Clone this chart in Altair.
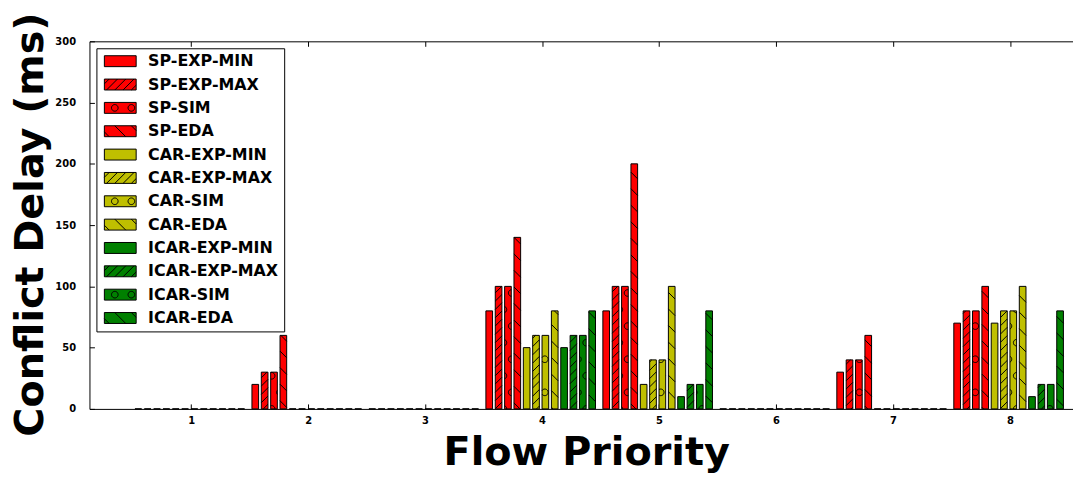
import math
import altair as alt
import pandas as pd

# ---------------- data ----------------
priorities = [1, 2, 3, 4, 5, 6, 7, 8]
series_names = [
    "SP-EXP-MIN", "SP-EXP-MAX", "SP-SIM", "SP-EDA",
    "CAR-EXP-MIN", "CAR-EXP-MAX", "CAR-SIM", "CAR-EDA",
    "ICAR-EXP-MIN", "ICAR-EXP-MAX", "ICAR-SIM", "ICAR-EDA",
]
sp_exp_min = [0, 20, 0, 80, 80, 0, 30, 70]
sp_exp_max = [0, 30, 0, 100, 100, 0, 40, 80]
sp_sim = [0, 30, 0, 100, 100, 0, 40, 80]
sp_eda = [0, 60, 0, 140, 200, 0, 60, 100]
car_exp_min = [0, 0, 0, 50, 20, 0, 0, 70]
car_exp_max = [0, 0, 0, 60, 40, 0, 0, 80]
car_sim = [0, 0, 0, 60, 40, 0, 0, 80]
car_eda = [0, 0, 0, 80, 100, 0, 0, 100]
icar_exp_min = [0, 0, 0, 50, 10, 0, 0, 10]
icar_exp_max = [0, 0, 0, 60, 20, 0, 0, 20]
icar_sim = [0, 0, 0, 60, 20, 0, 0, 20]
icar_eda = [0, 0, 0, 80, 80, 0, 0, 80]
x_ticks = [1, 2, 3, 4, 5, 6, 7, 8]
y_ticks = [0, 50, 100, 150, 200, 250, 300]

series_values = [
    sp_exp_min, sp_exp_max, sp_sim, sp_eda,
    car_exp_min, car_exp_max, car_sim, car_eda,
    icar_exp_min, icar_exp_max, icar_sim, icar_eda,
]

# ---------------- layout / style ----------------
W, H = 990, 370
X_MIN, X_MAX = 0.131, 8.539
Y_MIN, Y_MAX = 0, 300
BAR_START, BAR_STEP, BAR_W = -0.48, 0.08, 0.057
UX = (X_MAX - X_MIN) / W
UY = (Y_MAX - Y_MIN) / H

FAMILY_COLORS = {"SP": "#ff0000", "CAR": "#bfbf00", "ICAR": "#008000"}
HATCH_KIND = {"EXP-MIN": None, "EXP-MAX": "/", "SIM": "o", "EDA": "\\"}
colors = [FAMILY_COLORS[n.split("-")[0]] for n in series_names]
kinds = [HATCH_KIND[n.split("-", 1)[1]] for n in series_names]

S_FWD = 100 / 12
S_BACK = 100 / 6
S_CIRC = 100 / 6
R_CIRC = S_CIRC * 0.2
N_CIRC = 24


def clip_seg(x0, y0, x1, y1, L, R, B, T):
    dx, dy = x1 - x0, y1 - y0
    t0, t1 = 0.0, 1.0
    for p, q in ((-dx, x0 - L), (dx, R - x0), (-dy, y0 - B), (dy, T - y0)):
        if abs(p) < 1e-12:
            if q < 0:
                return None
        else:
            t = q / p
            if p < 0:
                if t > t1:
                    return None
                t0 = max(t0, t)
            else:
                if t < t0:
                    return None
                t1 = min(t1, t)
    if t1 - t0 < 1e-9:
        return None
    return (x0 + t0 * dx, y0 + t0 * dy, x0 + t1 * dx, y0 + t1 * dy)


def hatch_segments(kind, L, R, B, T, ox=0.0, oy=0.0):
    segs = []
    l, r, b, t = L - ox, R - ox, B - oy, T - oy
    raw = []
    if kind == "/":
        for k in range(math.floor((b - r) / S_FWD) - 1, math.ceil((t - l) / S_FWD) + 2):
            c = k * S_FWD
            raw.append((l, l + c, r, r + c))
    elif kind == "\\":
        for k in range(math.floor((b + l) / S_BACK) - 1, math.ceil((t + r) / S_BACK) + 2):
            c = k * S_BACK
            raw.append((l, c - l, r, c - r))
    elif kind == "o":
        for row in range(math.floor((b - R_CIRC) / S_CIRC) - 1, math.ceil((t + R_CIRC) / S_CIRC) + 2):
            yc = row * S_CIRC
            if yc + R_CIRC < b or yc - R_CIRC > t:
                continue
            shift = (row % 2) * S_CIRC / 2
            for j in range(math.floor((l - R_CIRC - shift) / S_CIRC) - 1,
                           math.ceil((r + R_CIRC - shift) / S_CIRC) + 2):
                xc = j * S_CIRC + shift
                if xc + R_CIRC < l or xc - R_CIRC > r:
                    continue
                for n in range(N_CIRC):
                    a0 = 2 * math.pi * n / N_CIRC
                    a1 = 2 * math.pi * (n + 1) / N_CIRC
                    raw.append((xc + R_CIRC * math.cos(a0), yc + R_CIRC * math.sin(a0),
                                xc + R_CIRC * math.cos(a1), yc + R_CIRC * math.sin(a1)))
    for (a, bb, c, d) in raw:
        s = clip_seg(a, bb, c, d, l, r, b, t)
        if s:
            segs.append((s[0] + ox, s[1] + oy, s[2] + ox, s[3] + oy))
    return segs


# bars table
bar_rows = []
hatch_rows = []
for i, name in enumerate(series_names):
    for g, p in enumerate(priorities):
        v = series_values[i][g]
        x0 = p + BAR_START + i * BAR_STEP
        x1 = x0 + BAR_W
        bar_rows.append({"series": name, "priority": p, "value": v, "x0": x0, "x1": x1,
                         "fillcol": colors[i]})
        if v > 0 and kinds[i]:
            L = (x0 - X_MIN) / UX
            R = (x1 - X_MIN) / UX
            T = v / UY
            for (a, b, c, d) in hatch_segments(kinds[i], L, R, 0.0, T):
                hatch_rows.append({
                    "hx0": X_MIN + a * UX, "hy0": b * UY,
                    "hx1": X_MIN + c * UX, "hy1": d * UY,
                })
bars_df = pd.DataFrame(bar_rows)
hatch_df = pd.DataFrame(hatch_rows)

# legend symbol paths (px -> symbol units)
SYM_PX = 11.0
UNIT = SYM_PX / 2
SW, SH = 32.0, 11.0


def fmt(v):
    return f"{v:.3f}"


def legend_path(kind):
    hx, hy = SW / 2 / UNIT, SH / 2 / UNIT
    path = f"M{fmt(-hx)},{fmt(-hy)}H{fmt(hx)}V{fmt(hy)}H{fmt(-hx)}Z"
    if kind:
        ox = -5.5 if kind == "o" else 0.0
        for (a, b, c, d) in hatch_segments(kind, -SW / 2, SW / 2, -SH / 2, SH / 2, ox=ox, oy=0.0):
            path += f"M{fmt(a / UNIT)},{fmt(-b / UNIT)}L{fmt(c / UNIT)},{fmt(-d / UNIT)}"
    return path


shape_paths = [legend_path(k) for k in kinds]
pts_df = pd.DataFrame({"series": series_names, "px": [1.0] * len(series_names),
                       "py": [-50.0] * len(series_names)})

xscale = alt.Scale(domain=[X_MIN, X_MAX], nice=False, zero=False)
yscale = alt.Scale(domain=[Y_MIN, Y_MAX], nice=False, zero=False)
cscale = alt.Scale(domain=series_names, range=colors)

bars = alt.Chart(bars_df).mark_bar(stroke="black", strokeWidth=1).encode(
    x=alt.X("x0:Q", scale=xscale, axis=alt.Axis(
        orient="bottom", values=x_ticks, title="Flow Priority", ticks=False,
        labelPadding=7, domain=True, titleX=500, titleY=56,
        titleBaseline="alphabetic", titleAlign="center", format="d")),
    x2="x1:Q",
    y=alt.Y("value:Q", scale=yscale, axis=alt.Axis(
        orient="left", values=y_ticks, title="Conflict Delay (ms)", ticks=False,
        labelPadding=14, domain=True, titleX=-47, titleY=184, titleAngle=270,
        titleBaseline="alphabetic", titleAlign="center")),
    y2=alt.datum(0),
    color=alt.Color("fillcol:N", scale=None),
)

hatch = alt.Chart(hatch_df).mark_rule(color="black", strokeWidth=1).encode(
    x=alt.X("hx0:Q", scale=xscale, axis=alt.Axis(
        orient="top", offset=-H, values=x_ticks, labels=False, ticks=True,
        tickSize=5, domain=False, title=None)),
    x2="hx1:Q",
    y=alt.Y("hy0:Q", scale=yscale, axis=alt.Axis(
        orient="right", offset=-W, values=y_ticks, labels=False, ticks=True,
        tickSize=5, domain=False, title=None)),
    y2="hy1:Q",
)

leg = alt.Legend(
    title=None, orient="top-left", offset=7, strokeColor="black", fillColor="white",
    padding=5, cornerRadius=0, labelFont="DejaVu Sans", labelFontWeight="bold",
    labelFontSize=16, labelColor="black", symbolSize=SYM_PX * SYM_PX,
    symbolStrokeColor="black", symbolStrokeWidth=1, rowPadding=7.5,
    symbolOffset=11, labelOffset=20,
)

legend_pts = alt.Chart(pts_df).mark_point(
    filled=True, opacity=1, stroke="black", strokeWidth=1, clip=True, size=SYM_PX * SYM_PX
).encode(
    x=alt.X("px:Q", scale=xscale, axis=alt.Axis(
        orient="bottom", offset=-H, values=x_ticks, labels=False, ticks=True,
        tickSize=5, domain=True, title=None)),
    y=alt.Y("py:Q", scale=yscale, axis=None),
    color=alt.Color("series:N", scale=cscale, legend=leg),
    shape=alt.Shape("series:N", scale=alt.Scale(domain=series_names, range=shape_paths), legend=leg),
)

chart = alt.layer(bars, hatch, legend_pts).resolve_axis(
    x="independent", y="independent"
).properties(
    width=W, height=H,
    padding={"left": 82, "top": 32, "right": 0, "bottom": 66},
    autosize=alt.AutoSizeParams(type="none"),
).configure(font="DejaVu Sans").configure_view(stroke=None).configure_axis(
    labelFont="DejaVu Sans", labelFontWeight="bold", labelFontSize=10, labelColor="black",
    titleFont="DejaVu Sans", titleFontWeight="bold", titleFontSize=40, titleColor="black",
    domainColor="black", domainWidth=1, tickColor="black", grid=False,
)

chart.save("out.html", embed_options={"renderer": "svg", "actions": False})
